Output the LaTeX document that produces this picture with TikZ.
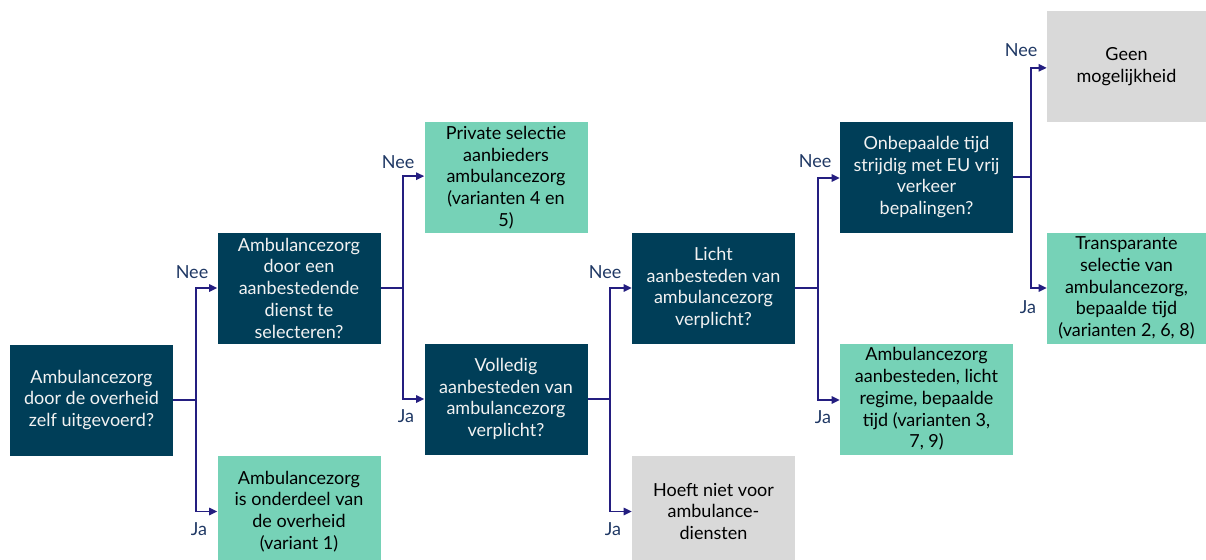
\documentclass[tikz,border=0pt]{standalone}
\usepackage{fontspec}
\setmainfont{Lato}
\usetikzlibrary{arrows.meta}
\definecolor{darkbox}{RGB}{0,62,88}
\definecolor{greenbox}{RGB}{118,210,183}
\definecolor{graybox}{RGB}{217,217,217}
\definecolor{linecol}{RGB}{36,30,128}
\definecolor{labcol}{RGB}{31,56,100}
\definecolor{lighttext}{RGB}{242,242,242}
\tikzset{
  box/.style={rectangle, inner sep=0pt, align=center, minimum width=122.25pt, minimum height=83.25pt,
    font=\fontsize{13.5pt}{16.3pt}\selectfont},
  qbox/.style={box, fill=darkbox, text=lighttext},
  gbox/.style={box, fill=greenbox, text=black},
  ybox/.style={box, fill=graybox, text=black},
  conn/.style={draw=linecol, line width=1.1pt, -{Triangle[length=6pt,width=5.5pt]}},
  plain/.style={draw=linecol, line width=1.1pt},
  lab/.style={text=labcol, font=\fontsize{13.5pt}{15pt}\selectfont, inner sep=0pt}
}
\begin{document}
\begin{tikzpicture}[x=0.75pt,y=-0.75pt]
\useasboundingbox (0,0) rectangle (1206,560);
% nodes
\node[qbox] (q1) at (91.5,400) {Ambulancezorg\\door de overheid\\zelf uitgevoerd?};
\node[qbox] (q2) at (299,288) {Ambulancezorg\\door een\\aanbestedende\\dienst te\\selecteren?};
\node[gbox] (a1) at (299,511.5) {Ambulancezorg\\is onderdeel van\\de overheid\\(variant 1)};
\node[gbox] (p) at (506,177.5) {Private selectie\\aanbieders\\ambulancezorg\\(varianten 4 en\\5)};
\node[qbox] (q3) at (506,399) {Volledig\\aanbesteden van\\ambulancezorg\\verplicht?};
\node[qbox] (q4) at (713.5,288) {Licht\\aanbesteden van\\ambulancezorg\\verplicht?};
\node[ybox] (h) at (713.5,511.5) {Hoeft niet voor\\ambulance-\\diensten};
\node[qbox, minimum width=129.75pt] (q5) at (926.5,177) {Onbepaalde tijd\\strijdig met EU vrij\\verkeer\\bepalingen?};
\node[gbox, minimum width=129.75pt] (a3) at (926.5,399) {Ambulancezorg\\aanbesteden, licht\\regime, bepaalde\\tijd (varianten 3,\\7, 9)};
\node[ybox, minimum width=119.25pt] (g) at (1126.5,66.5) {Geen\\mogelijkheid};
\node[gbox, minimum width=119.25pt] (t) at (1126.5,288) {Transparante\\selectie van\\ambulancezorg,\\bepaalde tijd\\(varianten 2, 6, 8)};
% bus coordinates
\coordinate (b1) at (196,400);
\coordinate (b2) at (403,288);
\coordinate (b3) at (610,399);
\coordinate (b4) at (818,288);
\coordinate (b5) at (1031,177);
% connectors
\draw[plain] (q1.east) -- (b1);
\draw[conn] (b1) |- (q2.west);
\draw[conn] (b1) |- (a1.west);
\draw[plain] (q2.east) -- (b2);
\draw[conn] (b2) |- ([yshift=1pt]p.west);
\draw[conn] (b2) |- (q3.west);
\draw[plain] (q3.east) -- (b3);
\draw[conn] (b3) |- (q4.west);
\draw[conn] (b3) |- (h.west);
\draw[plain] (q4.east) -- (b4);
\draw[conn] (b4) |- ([yshift=-0.75pt]q5.west);
\draw[conn] (b4) |- ([yshift=-0.75pt]a3.west);
\draw[plain] (q5.east) -- (b5);
\draw[conn] (b5) |- ([yshift=-1pt]g.west);
\draw[conn] (b5) |- (t.west);
% labels
\node[lab] (l1) at (192,272) {Nee};
\node[lab] (l2) at (199,529) {Ja};
\node[lab] (l3) at (398,162) {Nee};
\node[lab] (l4) at (406,416) {Ja};
\node[lab] (l5) at (605,272) {Nee};
\node[lab] (l6) at (613,529) {Ja};
\node[lab] (l7) at (815,161) {Nee};
\node[lab] (l8) at (823,417) {Ja};
\node[lab] (l9) at (1021,50) {Nee};
\node[lab] (l10) at (1028,307) {Ja};
\end{tikzpicture}
\end{document}
